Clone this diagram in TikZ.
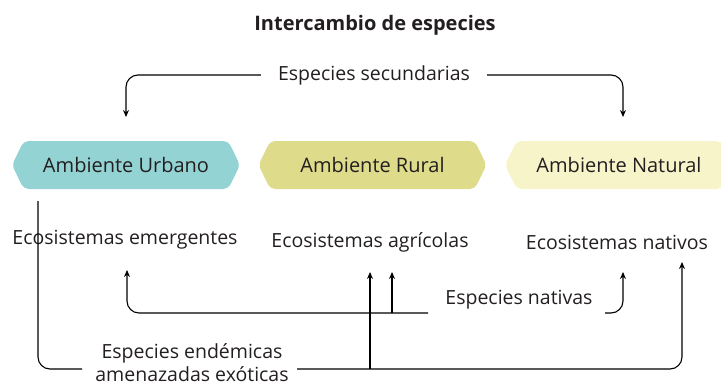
\documentclass[tikz,border=0pt]{standalone}
\usepackage{fontspec}
\setmainfont{Open Sans}
\usetikzlibrary{arrows.meta,shapes.symbols}

\tikzset{
  texto/.style={inner sep=0pt, font=\fontsize{19.5}{23}\selectfont, text={rgb,255:red,35;green,31;blue,32}},
  ambiente/.style={texto, font=\fontsize{20}{24}\selectfont, shape=signal, signal to=west and east,
    signal pointer angle=128, minimum width=228pt, minimum height=48pt, rounded corners=5pt},
  linea/.style={line width=1.1pt, rounded corners=12pt},
  flecha/.style={linea, -{Stealth[length=7pt,width=6pt]}}
}

\begin{document}
\begin{tikzpicture}[x=1pt,y=-1pt]
\useasboundingbox (0,0) rectangle (721,386);
% Text Node
\node[texto, font=\fontsize{20}{24}\selectfont\bfseries] (titulo) at (375,25) {Intercambio de especies};
\node[texto, inner xsep=17pt] (secundarias) at (374,75) {Especies secundarias};
%Shape: Signal
\node[ambiente, fill={rgb,255:red,148;green,211;blue,212}] (urbano) at (126,165) {Ambiente Urbano};
\node[ambiente, fill={rgb,255:red,222;green,219;blue,138}] (rural) at (372.5,165) {Ambiente Rural};
\node[ambiente, fill={rgb,255:red,248;green,244;blue,202}] (natural) at (619,165) {Ambiente Natural};
% Text Node
\node[texto] (emergentes) at (125,240) {Ecosistemas emergentes};
\node[texto] (agricolas) at (370,242) {Ecosistemas agrícolas};
\node[texto] (nativos) at (617,242) {Ecosistemas nativos};
\node[texto] (nativas) at (519,300) {Especies nativas};
\node[texto, align=center] (endemicas) at (192,363) {Especies endémicas\\amenazadas exóticas};
% Coordinates
\coordinate (urbano_in) at (126,117);
\coordinate (natural_in) at (623,117);
\coordinate (urbano_out) at (38,201);
\coordinate (emergentes_in) at (127,270);
\coordinate (agricolas_a) at (370,272);
\coordinate (agricolas_b) at (392,272);
\coordinate (nativos_a) at (623,272);
\coordinate (nativos_b) at (682,262);
\coordinate (nativas_izq) at (428,313);
\coordinate (nativas_der) at (605,313);
\coordinate (endemicas_izq) at (82,369);
\coordinate (endemicas_der) at (297,369);
%Curve Lines
\draw[flecha] (secundarias.west) -| (urbano_in);
\draw[flecha] (secundarias.east) -| (natural_in);
\draw[flecha] (nativas_izq) -| (emergentes_in);
\draw[flecha] (agricolas_b |- nativas_izq) -- (agricolas_b);
\draw[flecha] (nativas_der) -| (nativos_a);
\draw[linea] (urbano_out) |- (endemicas_izq);
\draw[flecha] (endemicas_der) -| (nativos_b);
\draw[flecha] (agricolas_a |- endemicas_der) -- (agricolas_a);
\end{tikzpicture}
\end{document}
